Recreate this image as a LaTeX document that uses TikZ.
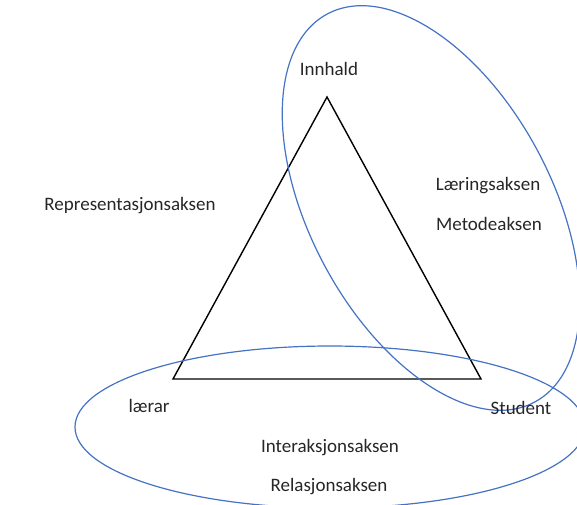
\documentclass[tikz,border=0pt]{standalone}
\usepackage{fontspec}
\setmainfont{Carlito}
\usepackage{tikz}
\usetikzlibrary{positioning}

\definecolor{akseblaa}{HTML}{4472C4}
\definecolor{tekstgraa}{HTML}{262626}

\begin{document}
\begin{tikzpicture}[x=1pt,y=-1pt,
                    aksetekst/.style={anchor=base,inner sep=0pt,text=tekstgraa,
                                      font=\fontsize{19}{23}\selectfont},
                    trekant/.style={draw=black,line width=1.4pt,line join=miter},
                    ring/.style={draw=akseblaa,line width=1.2pt}]

  \useasboundingbox (0,0) rectangle (577,504);

  \coordinate (topp) at (327,97);
  \coordinate (venstre) at (173,379);
  \coordinate (hogre) at (481,379);

  \draw[trekant] (topp) -- (venstre) -- (hogre) -- cycle;

  % ellipsane
  \begin{scope}[shift={(431,208)},rotate=-61.9]
    \draw[ring] (0,0) ellipse [x radius=220pt, y radius=121pt];
  \end{scope}
  \draw[ring] (330,427) ellipse [x radius=255pt, y radius=81pt];

  \node[aksetekst] (innhald) at (329,75) {Innhald};
  \node[aksetekst] (laerar) at (149,412) {lærar};
  \node[aksetekst] (student) at (521,414) {Student};
  \node[aksetekst] (representasjon) at (130,210) {Representasjonsaksen};
  \node[aksetekst] (laering) at (488,190) {Læringsaksen};
  \node[aksetekst] (metode) at (489,230) {Metodeaksen};
  \node[aksetekst] (interaksjon) at (330,452) {Interaksjonsaksen};
  \node[aksetekst] (relasjon) at (329,491) {Relasjonsaksen};
\end{tikzpicture}
\end{document}
